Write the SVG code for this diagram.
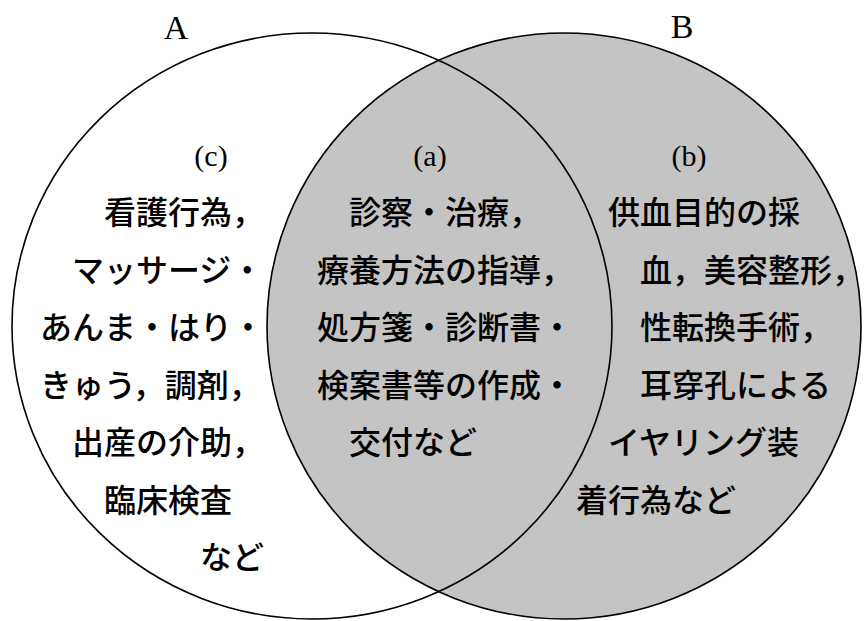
<svg xmlns="http://www.w3.org/2000/svg" width="866" height="621" viewBox="0 0 866 621">
<style>
.ring{fill:none;stroke:#000;stroke-width:1.6}
.shade{fill:#c4c4c4;stroke:none}
.jp{font-family:"Noto Sans CJK JP","Noto Sans CJK SC",sans-serif;font-size:32px;font-weight:500;fill:#000}
.lbl{font-family:"Liberation Serif",serif;fill:#000}
.big{font-size:34px}
.sub{font-size:30px}
</style>
<rect width="866" height="621" fill="#fff"/>
<g id="setB-fill"><ellipse class="shade" cx="564" cy="326" rx="297" ry="293"/></g>
<g id="setA"><ellipse class="ring" cx="312" cy="326" rx="300" ry="293"/><text class="lbl big" x="176" y="39" text-anchor="middle">A</text></g>
<g id="setB"><ellipse class="ring" cx="564" cy="326" rx="297" ry="293"/><text class="lbl big" x="682" y="38" text-anchor="middle">B</text></g>
<g id="region-c">
<text class="lbl sub" x="211" y="166" text-anchor="middle">(c)</text>
<text class="jp" x="104" y="224">看護行為，</text>
<text class="jp" x="72" y="281.5">マッサージ・</text>
<text class="jp" x="40" y="339">あんま・はり・</text>
<text class="jp" x="40" y="396.5">きゅう，調剤，</text>
<text class="jp" x="72" y="454">出産の介助，</text>
<text class="jp" x="104" y="511.5">臨床検査</text>
<text class="jp" x="200" y="569">など</text>
</g>
<g id="region-a">
<text class="lbl sub" x="430" y="166" text-anchor="middle">(a)</text>
<text class="jp" x="349" y="224">診察・治療，</text>
<text class="jp" x="317" y="281.5">療養方法の指導，</text>
<text class="jp" x="317" y="339">処方箋・診断書・</text>
<text class="jp" x="317" y="396.5">検案書等の作成・</text>
<text class="jp" x="349" y="454">交付など</text>
</g>
<g id="region-b">
<text class="lbl sub" x="689" y="166" text-anchor="middle">(b)</text>
<text class="jp" x="608" y="224">供血目的の採</text>
<text class="jp" x="640" y="281.5">血，美容整形，</text>
<text class="jp" x="640" y="339">性転換手術，</text>
<text class="jp" x="640" y="396.5">耳穿孔による</text>
<text class="jp" x="608" y="454">イヤリング装</text>
<text class="jp" x="576" y="511.5">着行為など</text>
</g>
</svg>
